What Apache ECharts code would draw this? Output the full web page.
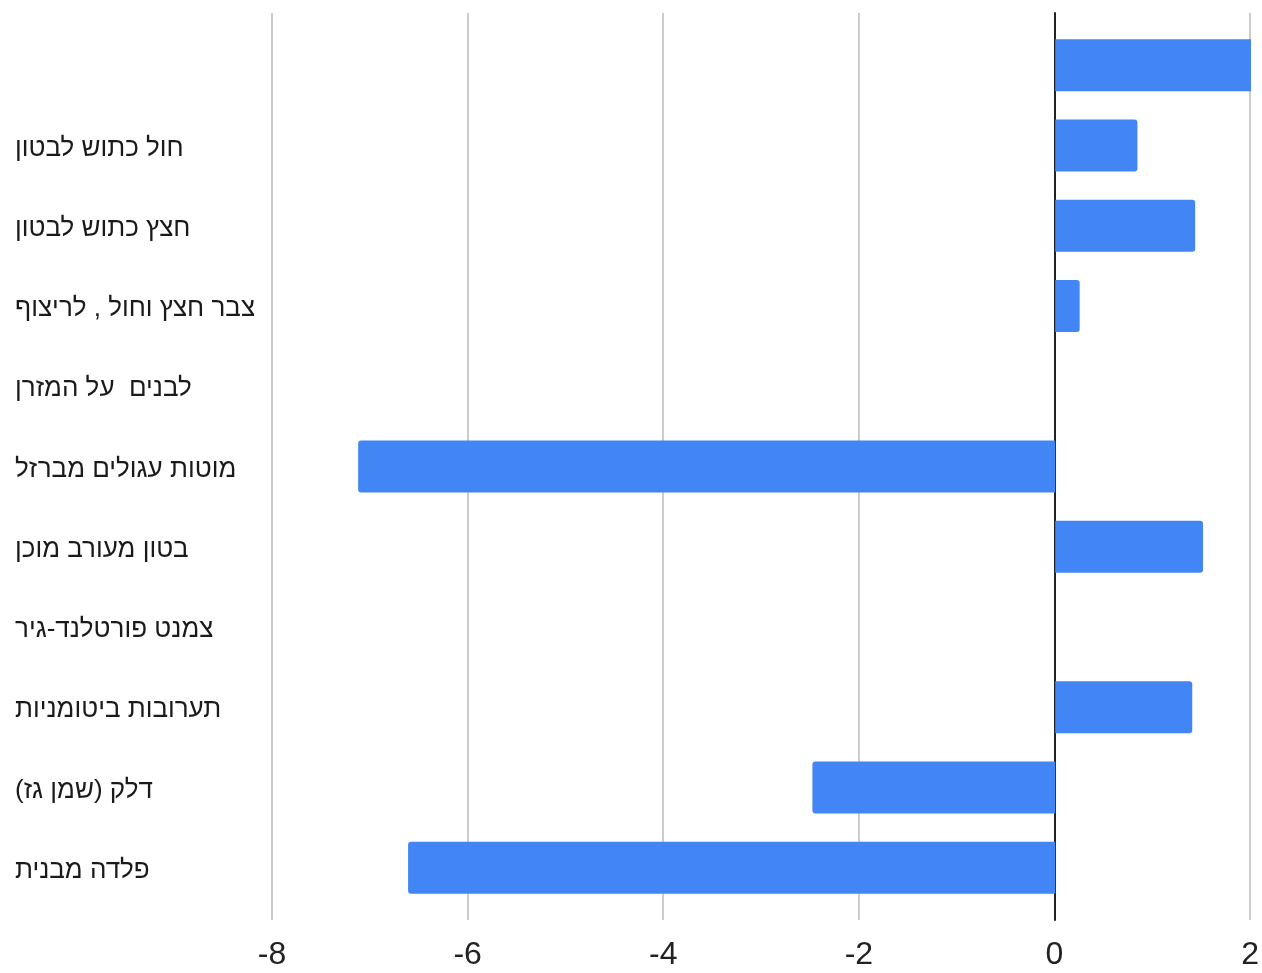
<!DOCTYPE html>
<html>
<head>
<meta charset="utf-8">
<script src="https://cdn.jsdelivr.net/npm/echarts@6/dist/echarts.min.js"></script>
<style>
  html, body { margin: 0; padding: 0; background: #fff; }
  #chart { width: 1262px; height: 973px; }
</style>
</head>
<body>
<div id="chart"></div>
<script>
// Categories, top to bottom
const categories = [
  "",
  "חול כתוש לבטון",
  "חצץ כתוש לבטון",
  "צבר חצץ וחול , לריצוף",
  "לבנים  על המזרן",
  "מוטות עגולים מברזל",
  "בטון מעורב מוכן",
  "צמנט פורטלנד-גיר",
  "תערובות ביטומניות",
  "דלק (שמן גז)",
  "פלדה מבנית"
];
const values = [2, 0.84, 1.43, 0.25, 0, -7.12, 1.51, 0, 1.40, -2.48, -6.61];
const xTicks = [-8, -6, -4, -2, 0, 2];

const X_MIN = xTicks[0];
const X_MAX = xTicks[xTicks.length - 1];
const BAR_COLOR = '#4285F4';
const FONT = '"Liberation Sans", Arial, sans-serif';

// Round only the outer end of each bar; bars reaching the axis edge stay square
const barData = values.map(v => ({
  value: v,
  itemStyle: {
    borderRadius: v >= X_MAX ? 0 : (v >= 0 ? [0, 3, 3, 0] : [3, 0, 0, 3])
  }
}));

const chart = echarts.init(document.getElementById('chart'), null, { renderer: 'canvas' });

chart.setOption({
  animation: false,
  backgroundColor: '#fff',
  grid: [
    // bars and category labels
    { left: 272, right: 11, top: 25, bottom: 65 },
    // gridlines, zero line and tick labels
    { left: 272, right: 11, top: 13, bottom: 53 }
  ],
  xAxis: [
    {
      gridIndex: 0, type: 'value', min: X_MIN, max: X_MAX, interval: 2,
      axisLine: { show: false }, axisTick: { show: false },
      axisLabel: { show: false }, splitLine: { show: false }
    },
    {
      gridIndex: 1, type: 'value', min: X_MIN, max: X_MAX, interval: 2,
      axisLine: { show: false }, axisTick: { show: false },
      splitLine: { show: true, lineStyle: { color: '#cccccc', width: 2 } },
      axisLabel: {
        margin: 19, fontSize: 32, color: '#222', fontFamily: FONT,
        formatter: v => String(v)
      }
    }
  ],
  yAxis: [
    {
      gridIndex: 0, type: 'category', data: categories, inverse: true,
      axisLine: { show: false }, axisTick: { show: false },
      splitLine: { show: false },
      axisLabel: {
        align: 'left', margin: 257,
        formatter: v => v ? '{t|' + v + '}' : '',
        rich: {
          t: {
            fontSize: 26, color: '#1a1a1a', fontFamily: FONT,
            padding: [6, 0, 0, 0]
          }
        }
      }
    },
    {
      gridIndex: 1, type: 'value', min: 0, max: 1,
      axisLine: { show: true, onZero: true, lineStyle: { color: '#222', width: 2 } },
      axisTick: { show: false }, axisLabel: { show: false },
      splitLine: { show: false }
    }
  ],
  series: [
    {
      type: 'bar',
      xAxisIndex: 0, yAxisIndex: 0,
      data: barData,
      barWidth: 52,
      itemStyle: { color: BAR_COLOR },
      z: 3
    }
  ]
});
</script>
</body>
</html>
